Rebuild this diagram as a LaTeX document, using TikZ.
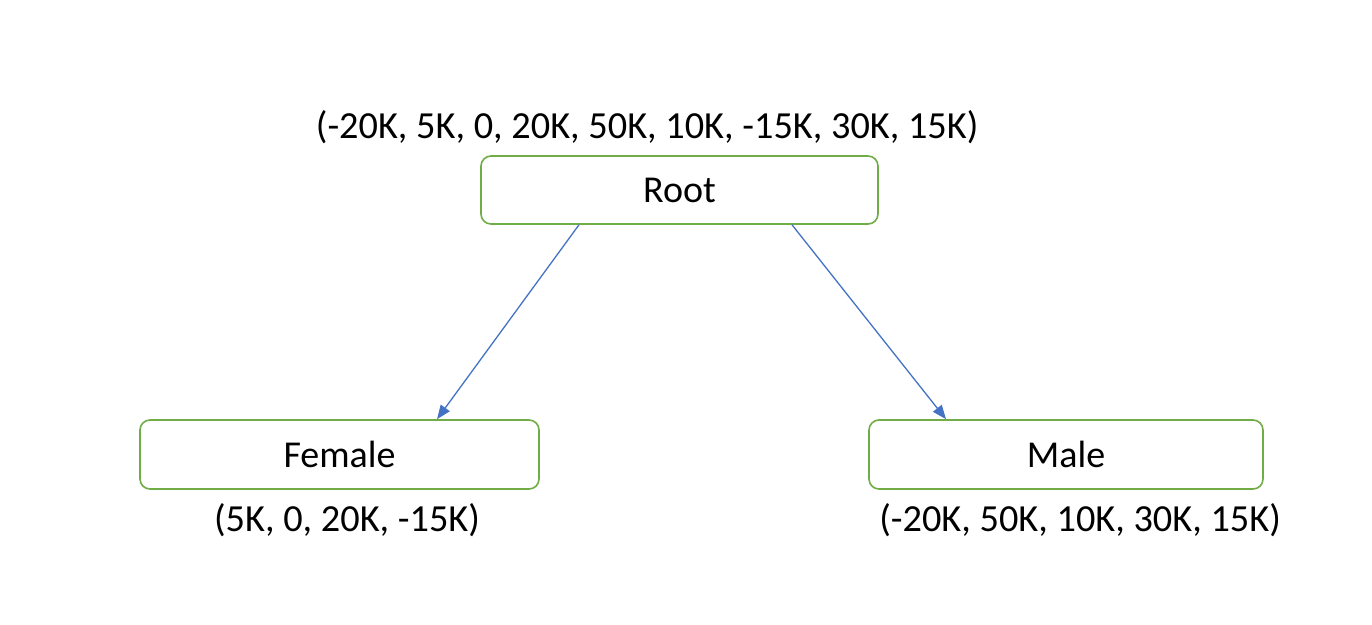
\documentclass[tikz,border=0pt]{standalone}
\usepackage{fontspec}
\setmainfont{Carlito}
\usetikzlibrary{arrows.meta}
\definecolor{boxgreen}{HTML}{70AD47}
\definecolor{arrblue}{HTML}{4472C4}
\tikzset{
  nodebox/.style={draw=boxgreen, line width=1.6pt, rounded corners=10pt, fill=white, inner sep=0pt, font=\fontsize{38}{44}\selectfont},
  lbl/.style={font=\fontsize{38.3}{44}\selectfont, inner sep=0pt},
  arr/.style={draw=arrblue, line width=1.3pt, -{Triangle[length=14pt,width=11pt]}}
}
\begin{document}
\begin{tikzpicture}[x=1pt,y=-1pt]
\useasboundingbox (0,0) rectangle (1372,624);
\node[nodebox, minimum width=397pt, minimum height=68pt] (root) at (679.5,190) {Root};
\node[nodebox, minimum width=399pt, minimum height=69pt] (female) at (339.5,454.5) {Female};
\node[nodebox, minimum width=394pt, minimum height=69pt] (male) at (1066,454.5) {Male};
\node[lbl] (rootlbl) at (647,127) {(-20K, 5K, 0, 20K, 50K, 10K, -15K, 30K, 15K)};
\node[lbl] (femlbl) at (347,520) {(5K, 0, 20K, -15K)};
\node[lbl] (malelbl) at (1080,520) {(-20K, 50K, 10K, 30K, 15K)};
\draw[arr] ([xshift=-100.5pt]root.south) -- ([xshift=97.5pt]female.north);
\draw[arr] ([xshift=112.5pt]root.south) -- ([xshift=-120pt]male.north);
\end{tikzpicture}
\end{document}
